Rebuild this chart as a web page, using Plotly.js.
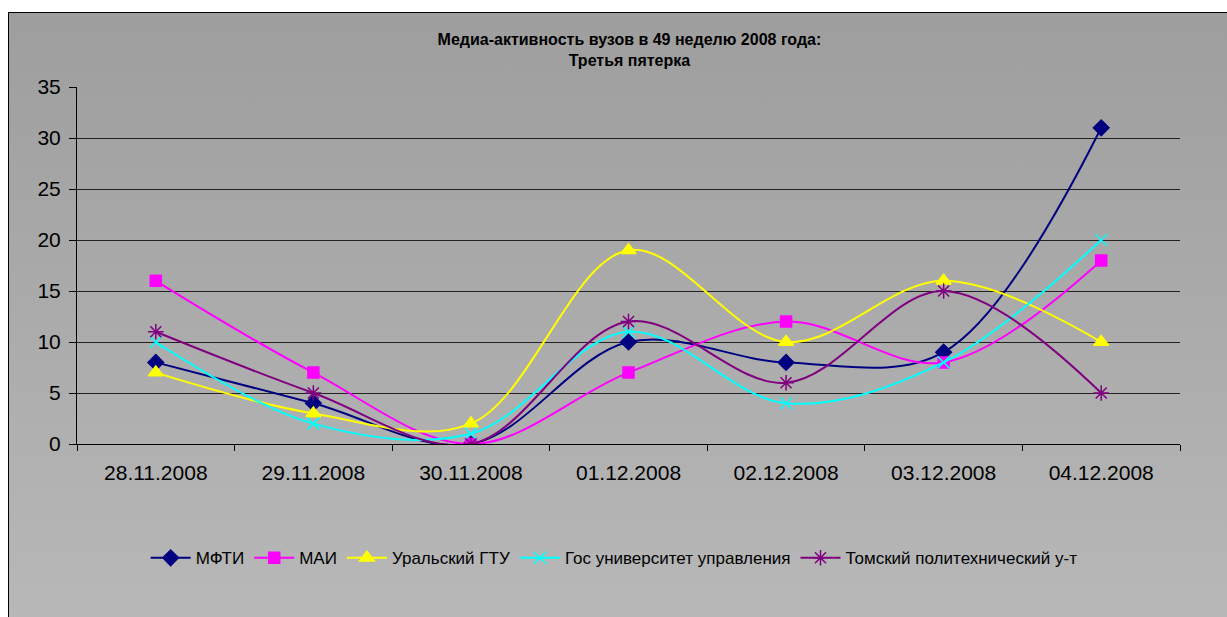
<!DOCTYPE html>
<html><head><meta charset="utf-8">
<script src="https://cdn.plot.ly/plotly-3.0.1.min.js"></script>
<style>
html,body{margin:0;padding:0;background:#fff;}
#frame{position:absolute;left:8px;top:12px;width:1225px;height:610px;border:1px solid #000;background:linear-gradient(to bottom,#9e9e9e 0%,#b8b8b8 100%);}
#chart{position:absolute;left:0;top:0;width:1227px;height:617px;}
</style></head><body>
<div id="frame"></div>
<div id="chart"></div>
<script>
const categories = ["28.11.2008","29.11.2008","30.11.2008","01.12.2008","02.12.2008","03.12.2008","04.12.2008"];
const mfti = [8, 4, 0, 10, 8, 9, 31];
const mai = [16, 7, 0, 7, 12, 8, 18];
const ugtu = [7, 3, 2, 19, 10, 16, 10];
const gosUpr = [10, 2, 1, 11, 4, 8, 20];
const tomsk = [11, 5, 0, 12, 6, 15, 5];
const names = ["МФТИ","МАИ","Уральский ГТУ","Гос университет управления","Томский политехнический у-т"];

const series = [
  {y: mfti, color: "#000080", symbol: "diamond", size: 12},
  {y: mai, color: "#FF00FF", symbol: "square", size: 11},
  {y: ugtu, color: "#FFFF00", symbol: "triangle-up", size: 13},
  {y: gosUpr, color: "#00FFFF", symbol: "x-thin-open", size: 12},
  {y: tomsk, color: "#800080", symbol: "asterisk-open", size: 13}
];
const traces = series.map((s, i) => ({
  type: "scatter", mode: "lines+markers", name: names[i],
  x: categories, y: s.y,
  line: {color: s.color, width: 2, shape: "spline", smoothing: 1},
  marker: {color: s.color, symbol: s.symbol, size: s.size, line: {color: s.color, width: 1.5}}
}));

const layout = {
  width: 1227, height: 617,
  paper_bgcolor: "rgba(0,0,0,0)", plot_bgcolor: "rgba(0,0,0,0)",
  margin: {l: 77, r: 47, t: 87, b: 173},
  font: {family: "Arial, Liberation Sans, sans-serif", color: "#000"},
  title: {text: "<b>Медиа-активность вузов в 49 неделю 2008 года:</b><br><b>Третья пятерка</b>",
    font: {size: 16, family: "Arial, Liberation Sans, sans-serif"}, x: 0.513, xanchor: "center",
    yref: "container", y: 1 - 45/617, yanchor: "middle"},
  xaxis: {type: "category", range: [-0.5, 6.5], tickson: "boundaries", ticks: "outside", ticklen: 6,
    tickcolor: "#000", showline: true, linecolor: "#000", linewidth: 1, showgrid: false,
    tickfont: {size: 21}, ticklabelstandoff: 10, fixedrange: true},
  yaxis: {range: [0, 35], dtick: 5, ticks: "outside", ticklen: 7, tickcolor: "#000",
    showline: true, linecolor: "#000", linewidth: 1, gridcolor: "#222", gridwidth: 1,
    zeroline: false, tickfont: {size: 21}, ticklabelstandoff: 4, fixedrange: true},
  legend: {orientation: "h", x: 0.487, xanchor: "center", y: -0.32, yanchor: "middle",
    font: {size: 17}, bgcolor: "rgba(0,0,0,0)", itemwidth: 40},
  showlegend: true
};
Plotly.newPlot("chart", traces, layout, {displayModeBar: false, staticPlot: true});
</script></body></html>
